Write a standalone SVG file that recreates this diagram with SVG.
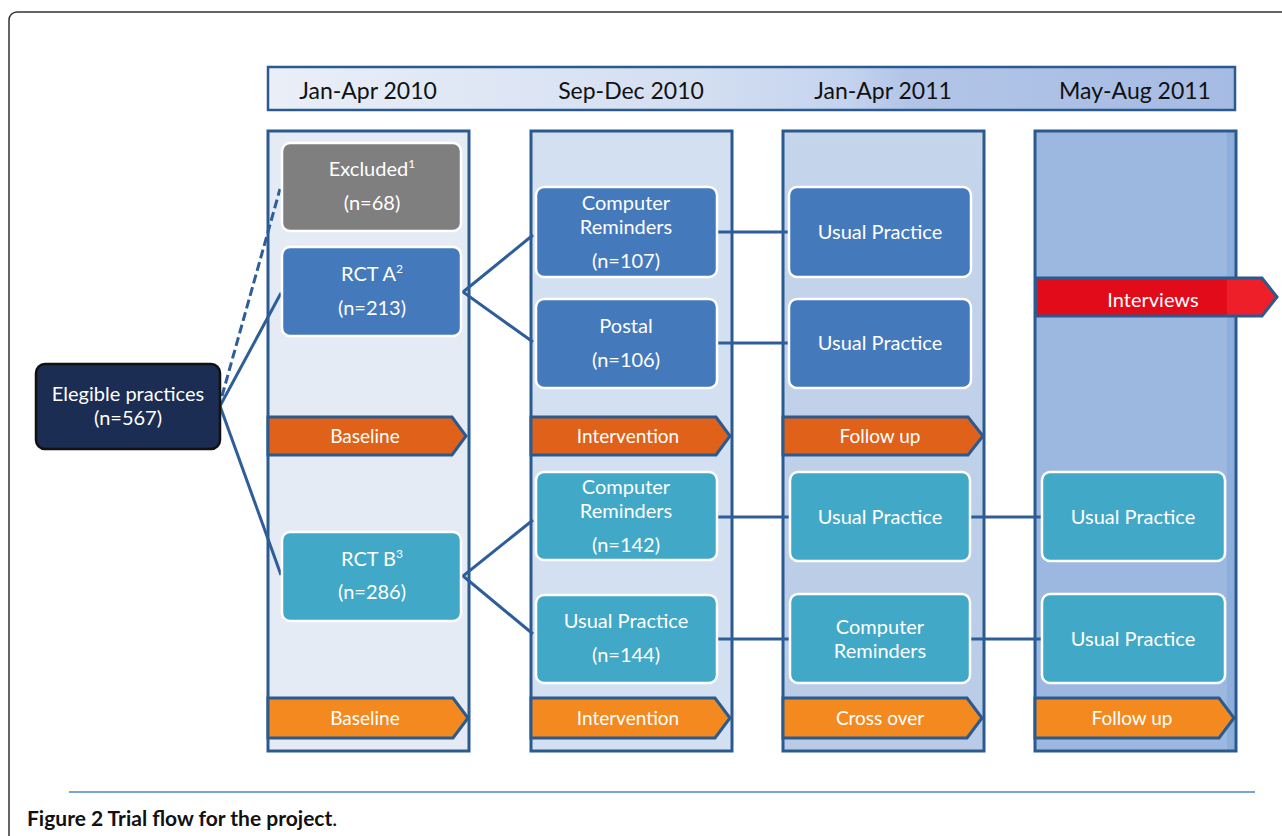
<svg xmlns="http://www.w3.org/2000/svg" width="1282" height="836" viewBox="0 0 1282 836">
  <defs>
    <linearGradient id="hdrGrad" x1="0" y1="0" x2="1" y2="0">
      <stop offset="0" stop-color="#eaeff8"/>
      <stop offset="0.45" stop-color="#d3def1"/>
      <stop offset="0.6" stop-color="#c4d3ee"/>
      <stop offset="0.66" stop-color="#b2c5e8"/>
      <stop offset="1" stop-color="#a6bbe3"/>
    </linearGradient>
    <linearGradient id="col3Grad" x1="0" y1="0" x2="0" y2="1">
      <stop offset="0" stop-color="#c5d5eb"/>
      <stop offset="1" stop-color="#b9cbe6"/>
    </linearGradient>
  </defs>
  <style>
    .col { stroke: #2b5a8f; stroke-width: 3; }
    .banner { stroke: #2b5a8f; stroke-width: 3; stroke-linejoin: miter; }
    .b-dark { fill: #e0611a; }
    .b-light { fill: #f4891f; }
    .box { stroke: #ffffff; stroke-width: 2.5; }
    .blue { fill: #4479bb; }
    .teal { fill: #41a8c8; }
    .grey { fill: #7f7f7f; }
    .t { font-family: Lato, "Open Sans", "Liberation Sans", sans-serif; fill: #ffffff; text-anchor: middle; }
    .tb { font-size: 20px; }
    .tn { font-size: 19px; }
    .hdr { font-family: Lato, "Open Sans", "Liberation Sans", sans-serif; font-size: 23px; fill: #111111; text-anchor: middle; }
    .link { stroke: #2e5e99; stroke-width: 3; fill: none; }
  </style>

  <!-- page frame -->
  <rect x="9" y="12" width="1290" height="832" rx="8" fill="#ffffff" stroke="#333333" stroke-width="1.5"/>

  <!-- time line header -->
  <g id="timeline">
    <rect x="268" y="67" width="967" height="43" fill="url(#hdrGrad)" stroke="#2b5a8f" stroke-width="2.5"/>
    <text class="hdr" x="368" y="99">Jan-Apr 2010</text>
    <text class="hdr" x="631" y="99">Sep-Dec 2010</text>
    <text class="hdr" x="883" y="99">Jan-Apr 2011</text>
    <text class="hdr" x="1135" y="99">May-Aug 2011</text>
  </g>

  <!-- period columns -->
  <g id="columns">
    <rect class="col" x="268" y="131" width="201" height="620" fill="#e4ebf5"/>
    <rect class="col" x="531" y="131" width="201" height="620" fill="#d3e0f2"/>
    <rect class="col" x="783" y="131" width="201" height="620" fill="url(#col3Grad)"/>
    <rect x="1035" y="131" width="201" height="620" fill="#9cb8e1"/>
    <rect x="1227" y="131" width="9" height="620" fill="#8caedb"/>
    <rect class="col" x="1035" y="131" width="201" height="620" fill="none"/>
  </g>

  <!-- phase banners -->
  <g id="banners">
    <polygon class="banner b-dark" points="268,417 452,417 466,436 452,455 268,455"/>
    <text class="t tn" x="365" y="443">Baseline</text>
    <polygon class="banner b-dark" points="531,417 716,417 730,436 716,455 531,455"/>
    <text class="t tn" x="628" y="443">Intervention</text>
    <polygon class="banner b-dark" points="783,417 968,417 983,436 968,455 783,455"/>
    <text class="t tn" x="880" y="443">Follow up</text>

    <polygon class="banner b-light" points="268,698 453,698 468,718 453,738 268,738"/>
    <text class="t tn" x="365" y="725">Baseline</text>
    <polygon class="banner b-light" points="531,698 715,698 730,718 715,738 531,738"/>
    <text class="t tn" x="628" y="725">Intervention</text>
    <polygon class="banner b-light" points="783,698 967,698 982,718 967,738 783,738"/>
    <text class="t tn" x="880" y="725">Cross over</text>
    <polygon class="banner b-light" points="1035,698 1219,698 1234,718 1219,738 1035,738"/>
    <text class="t tn" x="1132" y="725">Follow up</text>

    <g id="interviews">
      <polygon points="1036,278 1262,278 1277,297 1262,316 1036,316" fill="#e20b1a"/>
      <polygon points="1227,278 1262,278 1277,297 1262,316 1227,316" fill="#ee1f28"/>
      <polygon class="banner" points="1036,278 1262,278 1277,297 1262,316 1036,316" fill="none"/>
      <text class="t" font-size="20" x="1153" y="307">Interviews</text>
    </g>
  </g>

  <!-- connectors -->
  <g id="connectors">
    <line class="link" x1="222" y1="396" x2="280" y2="189" stroke="#213f72" stroke-dasharray="9 4"/>
    <line class="link" x1="220" y1="406" x2="281" y2="293"/>
    <line class="link" x1="220" y1="406" x2="281" y2="575"/>
    <polyline class="link" points="533,235 463,292 533,342"/>
    <polyline class="link" points="533,520 463,576 533,634"/>
    <line class="link" x1="717" y1="232" x2="789" y2="232"/>
    <line class="link" x1="717" y1="343" x2="789" y2="343"/>
    <line class="link" x1="717" y1="517" x2="790" y2="517"/>
    <line class="link" x1="970" y1="517" x2="1042" y2="517"/>
    <line class="link" x1="717" y1="639" x2="790" y2="639"/>
    <line class="link" x1="970" y1="639" x2="1042" y2="639"/>
  </g>

  <!-- nodes -->
  <g id="eligible">
    <rect x="36" y="364" width="184" height="85" rx="9" fill="#1b2d53" stroke="#111111" stroke-width="2.5"/>
    <text class="t tb" x="128" y="401">Elegible practices</text>
    <text class="t tb" x="128" y="425">(n=567)</text>
  </g>
  <g id="excluded">
    <rect class="box grey" x="282" y="143" width="179" height="88" rx="8"/>
    <text class="t tb" x="372" y="176">Excluded<tspan font-size="12" dy="-8">1</tspan></text>
    <text class="t tb" x="372" y="210">(n=68)</text>
  </g>
  <g id="rct-a">
    <rect class="box blue" x="282" y="247" width="179" height="89" rx="8"/>
    <text class="t tb" x="372" y="281">RCT A<tspan font-size="12" dy="-8">2</tspan></text>
    <text class="t tb" x="372" y="315">(n=213)</text>
  </g>
  <g id="rct-b">
    <rect class="box teal" x="282" y="532" width="179" height="89" rx="8"/>
    <text class="t tb" x="372" y="566">RCT B<tspan font-size="12" dy="-8">3</tspan></text>
    <text class="t tb" x="372" y="599">(n=286)</text>
  </g>

  <g id="a-computer">
    <rect class="box blue" x="536" y="187" width="181" height="90" rx="8"/>
    <text class="t tb" x="626" y="210">Computer</text>
    <text class="t tb" x="626" y="234">Reminders</text>
    <text class="t tb" x="626" y="268">(n=107)</text>
  </g>
  <g id="a-postal">
    <rect class="box blue" x="536" y="299" width="181" height="89" rx="8"/>
    <text class="t tb" x="626" y="333">Postal</text>
    <text class="t tb" x="626" y="367">(n=106)</text>
  </g>
  <g id="a-usual-1">
    <rect class="box blue" x="789" y="187" width="182" height="90" rx="8"/>
    <text class="t tb" x="880" y="239">Usual Practice</text>
  </g>
  <g id="a-usual-2">
    <rect class="box blue" x="789" y="299" width="182" height="89" rx="8"/>
    <text class="t tb" x="880" y="350">Usual Practice</text>
  </g>

  <g id="b-computer">
    <rect class="box teal" x="536" y="472" width="181" height="88" rx="8"/>
    <text class="t tb" x="626" y="494">Computer</text>
    <text class="t tb" x="626" y="518">Reminders</text>
    <text class="t tb" x="626" y="552">(n=142)</text>
  </g>
  <g id="b-usual">
    <rect class="box teal" x="536" y="595" width="181" height="88" rx="8"/>
    <text class="t tb" x="626" y="628">Usual Practice</text>
    <text class="t tb" x="626" y="662">(n=144)</text>
  </g>
  <g id="b-crossover-usual">
    <rect class="box teal" x="790" y="472" width="180" height="89" rx="8"/>
    <text class="t tb" x="880" y="524">Usual Practice</text>
  </g>
  <g id="b-crossover-computer">
    <rect class="box teal" x="790" y="594" width="180" height="89" rx="8"/>
    <text class="t tb" x="880" y="634">Computer</text>
    <text class="t tb" x="880" y="658">Reminders</text>
  </g>
  <g id="b-followup-1">
    <rect class="box teal" x="1042" y="472" width="183" height="89" rx="8"/>
    <text class="t tb" x="1133" y="524">Usual Practice</text>
  </g>
  <g id="b-followup-2">
    <rect class="box teal" x="1042" y="594" width="183" height="89" rx="8"/>
    <text class="t tb" x="1133" y="646">Usual Practice</text>
  </g>

  <!-- caption -->
  <line x1="69" y1="792" x2="1255" y2="792" stroke="#4a86c8" stroke-width="1.5"/>
  <text x="27" y="826" font-family="Lato, 'Liberation Sans', sans-serif" font-size="21" fill="#111111"><tspan font-weight="bold">Figure 2 Trial flow for the project</tspan>.</text>
</svg>
